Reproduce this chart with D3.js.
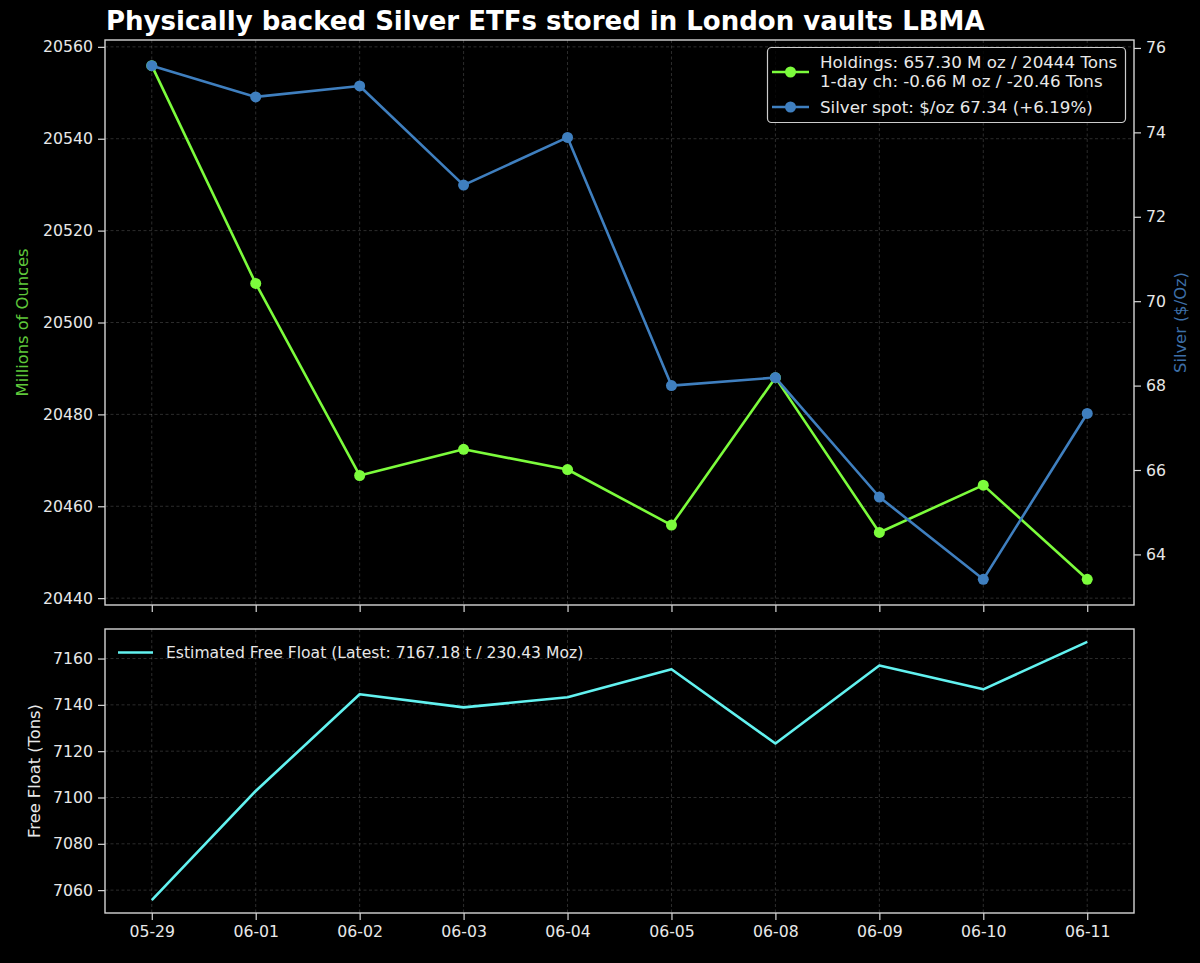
<!DOCTYPE html>
<html>
<head>
<meta charset="utf-8">
<script src="https://cdn.jsdelivr.net/npm/d3@7"></script>
<style>
  html, body { margin: 0; padding: 0; background: #000; }
  svg { display: block; font-family: "DejaVu Sans", sans-serif; }
  .tick text { fill: #e8e8e8; font-size: 15.7px; font-family: "DejaVu Sans", sans-serif; }
  .tick line { stroke: #d8d8d8; }
  .domain { display: none; }
</style>
</head>
<body>
<svg id="chart"></svg>
<script>
// Data
const dates = ["05-29", "06-01", "06-02", "06-03", "06-04", "06-05", "06-08", "06-09", "06-10", "06-11"];
const holdings = [20555.9, 20508.5, 20466.7, 20472.4, 20468.0, 20455.9, 20488.0, 20454.3, 20464.6, 20444.1];
const silver = [75.58, 74.84, 75.10, 72.75, 73.88, 68.00, 68.19, 65.36, 63.41, 67.34];
const freeFloat = [7055.7, 7102.8, 7144.6, 7138.9, 7143.3, 7155.4, 7123.3, 7157.0, 7146.7, 7167.18];

const holdingsTicks = [20440, 20460, 20480, 20500, 20520, 20540, 20560];
const silverTicks = [64, 66, 68, 70, 72, 74, 76];
const floatTicks = [7060, 7080, 7100, 7120, 7140, 7160];

const titleText = "Physically backed Silver ETFs stored in London vaults LBMA";
const legendTop = [
  ["Holdings: 657.30 M oz / 20444 Tons", "1-day ch: -0.66 M oz / -20.46 Tons"],
  ["Silver spot: $/oz 67.34 (+6.19%)"]
];
const legendBottom = "Estimated Free Float (Latest: 7167.18 t / 230.43 Moz)";

const green = "#7cfc3c";
const blue = "#3f7fbf";
const cyan = "#62f2f0";
const textColor = "#e8e8e8";
const frameColor = "#d4d4d4";

// Layout
const W = 1200, H = 963;
const left = 105, right = 1134;
const top1 = { y0: 40, y1: 605 };
const top2 = { y0: 629, y1: 913 };

const svg = d3.select("#chart").attr("width", W).attr("height", H);
svg.append("rect").attr("width", W).attr("height", H).attr("fill", "#000");

// matplotlib-like autoscale with 5% margins
function padded(values) {
  const lo = d3.min(values), hi = d3.max(values);
  const m = (hi - lo) * 0.05;
  return [lo - m, hi + m];
}

const x = d3.scalePoint().domain(dates).range([left, right]).padding(0.45);

const yHold = d3.scaleLinear().domain(padded(holdings)).range([top1.y1, top1.y0]);
const ySilver = d3.scaleLinear().domain(padded(silver)).range([top1.y1, top1.y0]);
const yFloat = d3.scaleLinear().domain(padded(freeFloat)).range([top2.y1, top2.y0]);

function grid(g, yScale, ticks, y0, y1) {
  g.selectAll(".vgrid").data(dates).enter().append("line")
    .attr("x1", d => x(d)).attr("x2", d => x(d))
    .attr("y1", y0).attr("y2", y1);
  g.selectAll(".hgrid").data(ticks).enter().append("line")
    .attr("x1", left).attr("x2", right)
    .attr("y1", d => yScale(d)).attr("y2", d => yScale(d));
  g.selectAll("line")
    .attr("stroke", "#ffffff").attr("stroke-opacity", 0.22)
    .attr("stroke-width", 0.8).attr("stroke-dasharray", "3,2.5");
}

// ---------- Top panel ----------
const p1 = svg.append("g");
grid(p1.append("g"), yHold, holdingsTicks, top1.y0, top1.y1);

p1.append("g")
  .attr("transform", "translate(" + left + ",0)")
  .call(d3.axisLeft(yHold).tickValues(holdingsTicks).tickSize(7).tickPadding(5).tickFormat(d3.format("d")))
  .selectAll(".tick line").attr("stroke-width", 1.2);

p1.append("g")
  .attr("transform", "translate(" + right + ",0)")
  .call(d3.axisRight(ySilver).tickValues(silverTicks).tickSize(7).tickPadding(5).tickFormat(d3.format("d")))
  .selectAll(".tick line").attr("stroke-width", 1.2);

p1.append("g")
  .attr("transform", "translate(0," + top1.y1 + ")")
  .call(d3.axisBottom(x).tickSize(7).tickFormat(""))
  .selectAll(".tick line").attr("stroke-width", 1.2);

const lineHold = d3.line().x((d, i) => x(dates[i])).y(d => yHold(d));
const lineSilver = d3.line().x((d, i) => x(dates[i])).y(d => ySilver(d));

p1.append("path").datum(holdings)
  .attr("d", lineHold).attr("fill", "none")
  .attr("stroke", green).attr("stroke-width", 2.6).attr("stroke-linejoin", "round");
p1.selectAll(".hdot").data(holdings).enter().append("circle")
  .attr("cx", (d, i) => x(dates[i])).attr("cy", d => yHold(d))
  .attr("r", 5.5).attr("fill", green);

p1.append("path").datum(silver)
  .attr("d", lineSilver).attr("fill", "none")
  .attr("stroke", blue).attr("stroke-width", 2.6).attr("stroke-linejoin", "round");
p1.selectAll(".sdot").data(silver).enter().append("circle")
  .attr("cx", (d, i) => x(dates[i])).attr("cy", d => ySilver(d))
  .attr("r", 5.5).attr("fill", blue);

p1.append("rect")
  .attr("x", left).attr("y", top1.y0)
  .attr("width", right - left).attr("height", top1.y1 - top1.y0)
  .attr("fill", "none").attr("stroke", frameColor).attr("stroke-width", 1.4);

// axis labels
svg.append("text")
  .attr("transform", "translate(28," + (top1.y0 + top1.y1) / 2 + ") rotate(-90)")
  .attr("text-anchor", "middle").attr("fill", "#5fc83a").attr("font-size", 16.3)
  .text("Millions of Ounces");
svg.append("text")
  .attr("transform", "translate(1186," + (top1.y0 + top1.y1) / 2 + ") rotate(-90)")
  .attr("text-anchor", "middle").attr("fill", "#3d6fa8").attr("font-size", 16.3)
  .text("Silver ($/Oz)");

// title
svg.append("text")
  .attr("x", 106).attr("y", 30)
  .attr("fill", "#ffffff").attr("font-size", 26).attr("font-weight", "bold")
  .text(titleText);

// legend (top)
const lg = svg.append("g");
lg.append("rect")
  .attr("x", 767.5).attr("y", 47.5).attr("width", 358).attr("height", 75)
  .attr("rx", 4).attr("fill", "#000").attr("fill-opacity", 0.8)
  .attr("stroke", "#cccccc").attr("stroke-width", 1.2);
const entries = [
  { color: green, y: 72, lines: legendTop[0], textY: [67.5, 86.5] },
  { color: blue, y: 107, lines: legendTop[1], textY: [112.5] }
];
entries.forEach(e => {
  lg.append("line").attr("x1", 772).attr("x2", 809).attr("y1", e.y).attr("y2", e.y)
    .attr("stroke", e.color).attr("stroke-width", 2.6);
  lg.append("circle").attr("cx", 790.5).attr("cy", e.y).attr("r", 5.5).attr("fill", e.color);
  e.lines.forEach((t, i) => {
    lg.append("text").attr("x", 820).attr("y", e.textY[i])
      .attr("fill", textColor).attr("font-size", 16.7).text(t);
  });
});

// ---------- Bottom panel ----------
const p2 = svg.append("g");
grid(p2.append("g"), yFloat, floatTicks, top2.y0, top2.y1);

p2.append("g")
  .attr("transform", "translate(" + left + ",0)")
  .call(d3.axisLeft(yFloat).tickValues(floatTicks).tickSize(7).tickPadding(5).tickFormat(d3.format("d")))
  .selectAll(".tick line").attr("stroke-width", 1.2);

p2.append("g")
  .attr("transform", "translate(0," + top2.y1 + ")")
  .call(d3.axisBottom(x).tickSize(7).tickPadding(6))
  .selectAll(".tick line").attr("stroke-width", 1.2);

const lineFloat = d3.line().x((d, i) => x(dates[i])).y(d => yFloat(d));
p2.append("path").datum(freeFloat)
  .attr("d", lineFloat).attr("fill", "none")
  .attr("stroke", cyan).attr("stroke-width", 2.6).attr("stroke-linejoin", "round");

p2.append("rect")
  .attr("x", left).attr("y", top2.y0)
  .attr("width", right - left).attr("height", top2.y1 - top2.y0)
  .attr("fill", "none").attr("stroke", frameColor).attr("stroke-width", 1.4);

svg.append("text")
  .attr("transform", "translate(40," + (top2.y0 + top2.y1) / 2 + ") rotate(-90)")
  .attr("text-anchor", "middle").attr("fill", textColor).attr("font-size", 16.3)
  .text("Free Float (Tons)");

// legend (bottom)
p2.append("line").attr("x1", 118).attr("x2", 153).attr("y1", 652.5).attr("y2", 652.5)
  .attr("stroke", cyan).attr("stroke-width", 2.6);
p2.append("text").attr("x", 166).attr("y", 658)
  .attr("fill", textColor).attr("font-size", 15.6).text(legendBottom);
</script>
</body>
</html>
